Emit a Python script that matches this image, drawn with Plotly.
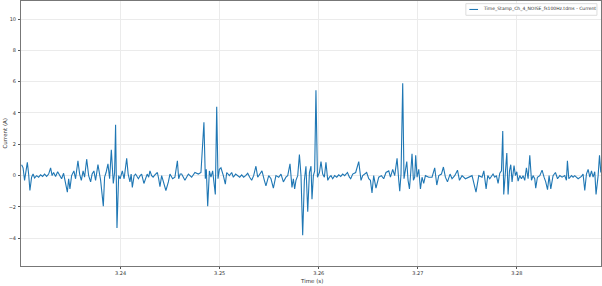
import plotly.graph_objects as go

time_s = [
    3.23000, 3.23015, 3.23030, 3.23045, 3.23058, 3.23071, 3.23084, 3.23101, 3.23116, 3.23131,
    3.23152, 3.23172, 3.23192, 3.23212, 3.23232, 3.23253, 3.23273, 3.23293, 3.23308, 3.23323,
    3.23343, 3.23364, 3.23384, 3.23404, 3.23424, 3.23439, 3.23462, 3.23475, 3.23488, 3.23505,
    3.23528, 3.23545, 3.23569, 3.23586, 3.23603, 3.23621, 3.23636, 3.23657, 3.23677, 3.23697,
    3.23712, 3.23730, 3.23747, 3.23771, 3.23788, 3.23798, 3.23825, 3.23838, 3.23853, 3.23872,
    3.23889, 3.23906, 3.23926, 3.23939, 3.23949, 3.23963, 3.23980, 3.23995, 3.24017, 3.24035,
    3.24061, 3.24076, 3.24094, 3.24106, 3.24118, 3.24136, 3.24151, 3.24179, 3.24197, 3.24212,
    3.24235, 3.24252, 3.24268, 3.24283, 3.24296, 3.24313, 3.24328, 3.24346, 3.24371, 3.24384,
    3.24397, 3.24414, 3.24437, 3.24457, 3.24482, 3.24498, 3.24525, 3.24548, 3.24573, 3.24586,
    3.24601, 3.24616, 3.24649, 3.24684, 3.24717, 3.24750, 3.24785, 3.24811, 3.24841, 3.24855,
    3.24865, 3.24879, 3.24896, 3.24912, 3.24929, 3.24956, 3.24970, 3.24983, 3.24997, 3.25013,
    3.25037, 3.25057, 3.25071, 3.25098, 3.25121, 3.25138, 3.25161, 3.25182, 3.25202, 3.25222,
    3.25242, 3.25262, 3.25283, 3.25303, 3.25323, 3.25343, 3.25366, 3.25384, 3.25407, 3.25427,
    3.25451, 3.25467, 3.25495, 3.25518, 3.25542, 3.25568, 3.25596, 3.25619, 3.25643, 3.25669,
    3.25687, 3.25710, 3.25730, 3.25744, 3.25757, 3.25770, 3.25788, 3.25805, 3.25821, 3.25838,
    3.25855, 3.25871, 3.25889, 3.25906, 3.25922, 3.25932, 3.25946, 3.25959, 3.25972, 3.25987,
    3.26007, 3.26023, 3.26040, 3.26057, 3.26073, 3.26091, 3.26108, 3.26124, 3.26141, 3.26161,
    3.26182, 3.26202, 3.26222, 3.26242, 3.26262, 3.26290, 3.26310, 3.26323, 3.26343, 3.26373,
    3.26404, 3.26427, 3.26444, 3.26461, 3.26484, 3.26505, 3.26522, 3.26538, 3.26555, 3.26578,
    3.26606, 3.26633, 3.26656, 3.26679, 3.26707, 3.26724, 3.26747, 3.26767, 3.26791, 3.26808,
    3.26818, 3.26831, 3.26848, 3.26861, 3.26875, 3.26889, 3.26902, 3.26916, 3.26929, 3.26942,
    3.26956, 3.26969, 3.26979, 3.26993, 3.27010, 3.27027, 3.27043, 3.27060, 3.27077, 3.27111,
    3.27144, 3.27171, 3.27192, 3.27212, 3.27239, 3.27259, 3.27279, 3.27300, 3.27326, 3.27346,
    3.27373, 3.27401, 3.27421, 3.27447, 3.27481, 3.27515, 3.27548, 3.27588, 3.27616, 3.27649,
    3.27667, 3.27690, 3.27707, 3.27727, 3.27744, 3.27760, 3.27777, 3.27794, 3.27811, 3.27828,
    3.27845, 3.27858, 3.27868, 3.27885, 3.27899, 3.27912, 3.27926, 3.27939, 3.27952, 3.27972,
    3.27986, 3.28000, 3.28013, 3.28030, 3.28047, 3.28063, 3.28080, 3.28097, 3.28114, 3.28131,
    3.28148, 3.28164, 3.28181, 3.28191, 3.28208, 3.28232, 3.28255, 3.28275, 3.28292, 3.28310,
    3.28326, 3.28343, 3.28366, 3.28390, 3.28411, 3.28434, 3.28457, 3.28484, 3.28501, 3.28511,
    3.28525, 3.28552, 3.28568, 3.28585, 3.28619, 3.28653, 3.28669, 3.28686, 3.28703, 3.28720,
    3.28737, 3.28754, 3.28770, 3.28787, 3.28800, 3.28821, 3.28835, 3.28848,
]

current_a = [
    0.7, 0.5, -0.3, 0.2, 0.85, 0.1, -0.95, -0.1, 0.1, -0.15,
    0.0, -0.1, 0.05, -0.05, 0.1, -0.05, 0.1, 0.5, 0.0, 0.2,
    -0.05, 0.25, 0.0, -0.2, 0.15, -0.4, -1.05, -0.2, -0.85, 0.0,
    0.3, -0.2, 0.95, 0.1, -0.3, 0.3, -0.1, 1.05, 0.0, -0.4,
    0.1, 0.3, -0.3, 0.7, 0.0, -0.3, -1.95, -0.1, 0.2, 0.75,
    -0.2, 1.65, -0.5, 0.2, 3.25, -3.35, 0.0, -0.2, 0.3, -0.2,
    1.1, 0.1, -0.4, 0.1, -0.75, 0.0, 0.1, -0.2, 0.0, 0.1,
    -0.5, -0.1, 0.1, -0.1, 0.3, 0.0, -0.1, 0.05, 0.2, -0.2,
    -0.7, 0.0, -0.55, -0.95, -0.4, 0.1, -0.2, -0.1, 0.95, -0.2,
    0.1, 0.1, -0.3, 0.1, -0.1, 0.2, 0.1, 0.2, 3.4, -0.2,
    0.4, -1.95, 0.3, -0.1, 0.3, -1.2, 4.4, -0.2, 0.4, 0.5,
    0.0, -0.55, 0.2, 0.0, 0.2, -0.1, 0.1, 0.0, -0.1, 0.05,
    -0.1, 0.0, 0.15, -0.1, -0.3, 0.0, 0.6, -0.1, 0.1, 0.3,
    -0.3, -0.65, 0.0, -0.2, -0.8, 0.0, -0.1, 0.1, -0.4, -0.1,
    0.0, 0.75, -0.75, -0.2, -0.85, -0.3, 0.0, 1.35, 0.0, -3.8,
    -0.3, 0.6, -2.3, 0.2, 0.6, -1.5, 0.0, 0.3, 5.45, -0.1,
    0.2, 0.9, 0.1, -0.1, 0.85, -0.3, -0.1, 0.0, -0.2, 0.0,
    -0.1, 0.05, -0.05, 0.1, 0.0, 0.2, -0.1, -0.2, 0.1, 0.2,
    0.9, -0.3, 0.0, 0.1, 0.2, -0.2, -0.3, -1.1, 0.0, -0.8,
    -0.1, 0.0, -0.2, 0.2, 0.3, -0.1, 0.4, 0.0, 1.1, -0.3,
    -1.0, 0.1, 5.9, -0.2, 0.3, 0.9, -0.3, -0.85, 0.2, 1.4,
    -0.3, -0.1, 1.3, -0.1, 0.4, -0.85, -0.1, -0.5, 0.0, -0.1,
    -0.1, 0.5, -0.6, 0.0, 0.1, 0.55, -0.1, -0.4, 0.1, -0.2,
    0.0, 0.35, -0.3, 0.0, -0.2, -0.1, 0.0, -1.05, 0.0, -0.1,
    0.3, -0.85, 0.0, -0.2, 0.0, 0.1, -0.1, 0.0, -0.5, 0.15,
    0.3, 2.85, -1.2, 0.4, 1.45, -1.2, 0.3, 0.7, -0.4, 0.65,
    0.0, 0.25, -0.35, 0.0, -0.2, 0.0, -0.3, 0.5, -0.2, 1.3,
    -0.3, 0.0, -0.2, -0.8, -0.1, 0.0, 0.35, -0.1, -0.4, -0.9,
    0.0, -0.85, 0.0, 0.2, -0.2, 0.0, -0.1, 0.0, -0.3, 0.95,
    -0.2, 0.0, -0.1, 0.0, -0.2, -0.05, 0.1, -0.95, 0.1, 0.4,
    -0.1, 0.3, -0.1, 0.25, -1.2, 0.0, 1.3, 0.2,
]

x_ticks = [3.24, 3.25, 3.26, 3.27, 3.28]
x_tick_labels = ["3.24", "3.25", "3.26", "3.27", "3.28"]
y_ticks = [-4, -2, 0, 2, 4, 6, 8, 10]
y_tick_labels = ["\u22124", "\u22122", "0", "2", "4", "6", "8", "10"]

series_name = "Time_Stamp_Ch_4_NOISE_fs100Hz.tdms - Current"
line_color = "#1f77b4"

fig = go.Figure()
fig.add_trace(go.Scatter(
    x=time_s, y=current_a, mode="lines", name=series_name,
    line=dict(color=line_color, width=1.1), showlegend=False,
))

font = "DejaVu Sans, Arial, sans-serif"
axis_common = dict(
    showgrid=True, gridcolor="#ebebeb", gridwidth=1,
    showline=True, mirror=True, linecolor="#777777", linewidth=1,
    ticks="outside", ticklen=2, tickwidth=1, tickcolor="#555555",
    tickfont=dict(family=font, size=5, color="#333333"),
    zeroline=False,
)

# compact matplotlib-style legend box (paper coordinates)
leg_x0, leg_x1, leg_y0, leg_y1 = 0.767, 0.993, 0.946, 0.990
leg_mid = (leg_y0 + leg_y1) / 2

fig.update_layout(
    width=602, height=286,
    margin=dict(l=21, r=1, t=1, b=20),
    paper_bgcolor="white", plot_bgcolor="white",
    showlegend=False,
    xaxis=dict(range=[3.22994, 3.28850], tickvals=x_ticks, ticktext=x_tick_labels,
               ticklabelstandoff=0, **axis_common),
    yaxis=dict(range=[-5.77, 11.15], tickvals=y_ticks, ticktext=y_tick_labels,
               ticklabelstandoff=1, **axis_common),
    shapes=[
        dict(type="rect", xref="paper", yref="paper", x0=leg_x0, x1=leg_x1, y0=leg_y0, y1=leg_y1,
             line=dict(color="#dddddd", width=1), fillcolor="rgba(255,255,255,0.85)", layer="above"),
        dict(type="line", xref="paper", yref="paper", x0=leg_x0 + 0.006, x1=leg_x0 + 0.021,
             y0=leg_mid, y1=leg_mid, line=dict(color=line_color, width=1.1), layer="above"),
    ],
    annotations=[
        dict(text=series_name, xref="paper", yref="paper", x=leg_x0 + 0.026, y=leg_mid,
             showarrow=False, xanchor="left", yanchor="middle",
             font=dict(family=font, size=4.5, color="#333333")),
        dict(text="Time (s)", xref="paper", yref="paper", x=0.5, y=0, yshift=-15,
             showarrow=False, xanchor="center", yanchor="middle",
             font=dict(family=font, size=5.5, color="#333333")),
        dict(text="Current (A)", xref="paper", yref="paper", x=0, y=0.5, xshift=-17,
             showarrow=False, textangle=-90, xanchor="center", yanchor="middle",
             font=dict(family=font, size=5.5, color="#333333")),
    ],
)

fig.write_html("out.html")
